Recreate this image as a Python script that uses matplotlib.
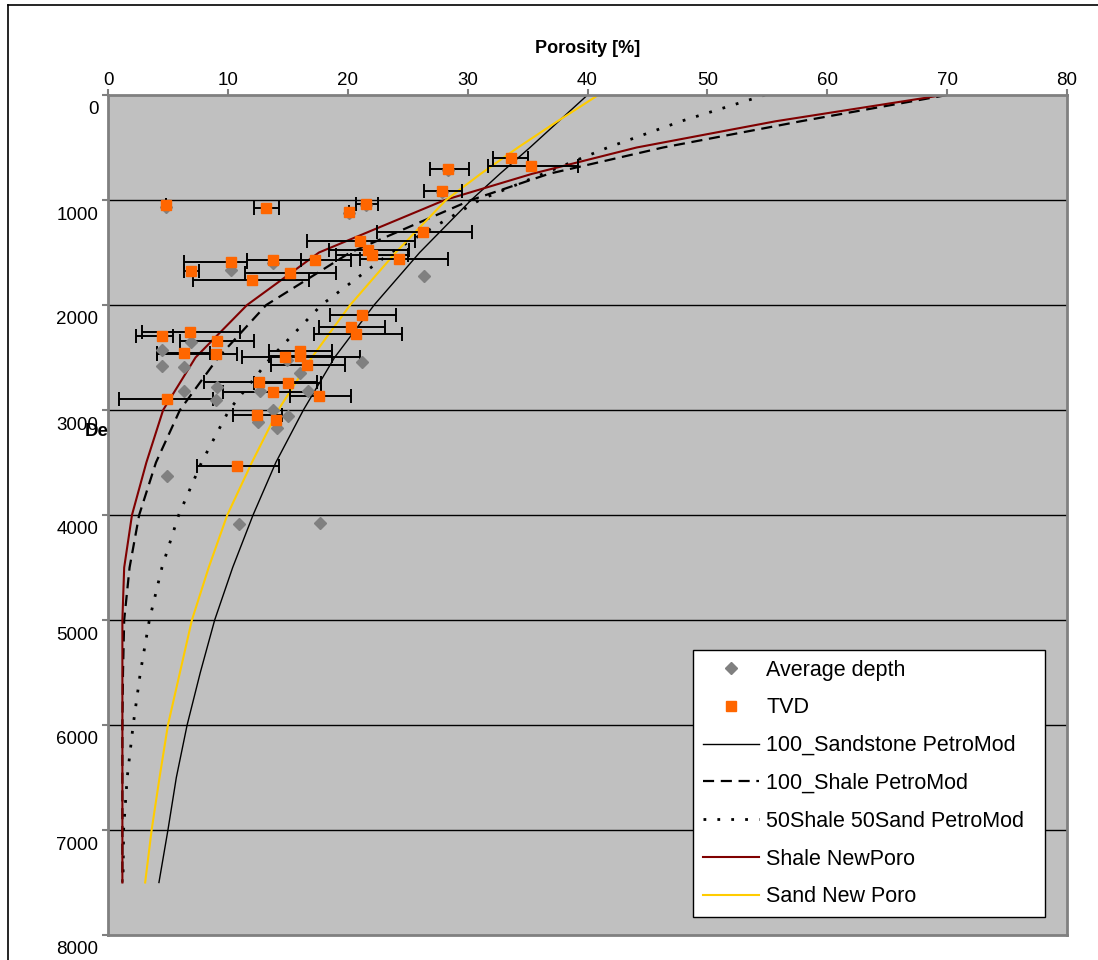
import matplotlib.pyplot as plt
import matplotlib.transforms as mtransforms
from matplotlib.lines import Line2D
import numpy as np

plt.rcParams['font.family'] = ['Liberation Sans', 'DejaVu Sans']

# Modellkurven: Tiefe [m] und Porosität [%]
curve_depth = [0, 250, 500, 750, 1000, 1500, 2000, 2500, 3000, 3500,
               4000, 4500, 5000, 5500, 6000, 6500, 7000, 7500]
sandstone_pm = [40.0, 37.6, 35.2, 32.7, 30.3, 26.0, 22.2, 18.9, 16.3, 14.0,
                12.1, 10.4, 8.9, 7.7, 6.6, 5.7, 5.0, 4.25]
shale_pm = [70.0, 57.8, 46.3, 36.8, 30.3, 20.2, 13.2, 9.2, 6.0, 4.0,
            2.6, 1.8, 1.35, 1.25, 1.2, 1.2, 1.2, 1.2]
mix_pm = [54.8, 47.8, 41.7, 36.3, 31.0, 23.6, 17.8, 13.6, 10.1, 7.8,
          5.9, 4.5, 3.45, 2.7, 2.1, 1.6, 1.3, 1.25]
shale_new = [69.7, 55.7, 44.1, 35.4, 28.1, 17.6, 11.6, 7.3, 4.6, 3.2,
             2.0, 1.35, 1.2, 1.2, 1.2, 1.2, 1.2, 1.2]
sand_new = [40.9, 37.5, 34.2, 31.1, 28.2, 24.0, 20.2, 17.0, 14.2, 12.0,
            9.95, 8.4, 7.0, 6.0, 5.0, 4.3, 3.64, 3.1]

# Messwerte TVD (Porosität, Tiefe, Fehlerbalken min/max)
tvd_por = [4.8, 13.2, 21.5, 20.1, 28.4, 33.6, 35.3, 27.9, 26.3, 21.0,
           21.7, 22.0, 24.3, 17.3, 13.8, 10.3, 6.9, 15.2, 12.0,
           21.2, 20.3, 20.7, 6.8, 4.5, 9.1, 6.3, 9.0, 16.0, 16.0,
           14.8, 16.6, 12.6, 15.0, 13.8, 17.6, 4.9, 12.4, 14.0, 10.8]
tvd_depth = [1050, 1078, 1034, 1113, 704, 596, 675, 916, 1306, 1395,
             1474, 1522, 1560, 1570, 1570, 1595, 1680, 1696, 1760,
             2093, 2210, 2279, 2254, 2292, 2346, 2457, 2470, 2441, 2488,
             2495, 2574, 2736, 2742, 2825, 2869, 2895, 3044, 3097, 3535]
tvd_lo = [4.8, 12.2, 20.7, 20.1, 26.9, 32.1, 31.7, 26.4, 22.4, 16.6,
          18.4, 19.0, 21.0, 16.1, 11.6, 6.3, 6.3, 11.4, 7.1,
          18.5, 17.6, 17.2, 2.8, 2.3, 6.0, 4.1, 4.1, 13.4, 13.4,
          11.2, 13.6, 8.0, 12.2, 9.6, 15.2, 0.9, 10.4, 14.0, 7.4]
tvd_hi = [4.8, 14.3, 22.5, 20.1, 30.1, 35.0, 39.2, 29.5, 30.4, 25.6,
          25.1, 25.0, 28.4, 20.3, 16.1, 11.6, 7.6, 19.0, 16.8,
          24.0, 23.1, 24.5, 11.0, 5.4, 12.2, 8.5, 10.8, 18.7, 18.7,
          21.0, 19.8, 17.4, 17.8, 17.8, 20.3, 8.8, 14.5, 14.0, 14.3]

# Messwerte mittlere Tiefe
avg_por = [4.8, 20.1, 10.3, 26.4, 6.9, 4.5, 4.5, 6.3, 14.9, 21.2,
           16.0, 9.1, 12.7, 16.7, 6.3, 9.0, 13.8, 15.0, 12.5, 14.1,
           4.9, 10.9, 17.7, 13.8, 21.5, 28.4, 27.9]
avg_depth = [1065, 1125, 1665, 1722, 2355, 2432, 2578, 2591, 2520, 2546,
             2648, 2780, 2818, 2818, 2816, 2901, 2996, 3059, 3117, 3170,
             3624, 4090, 4077, 1600, 1045, 712, 925]

fig = plt.figure(figsize=(10.98, 9.6), dpi=100)
W, H = 1098, 960
ax = fig.add_axes([108 / W, 1 - 935 / H, (1067 - 108) / W, (935 - 95) / H])
ax.set_facecolor('#C0C0C0')

# Rahmen um das Diagramm (nur oben und links sichtbar)
fig.add_artist(Line2D([8 / W, 8 / W], [0, 1 - 5 / H], transform=fig.transFigure,
                      color='black', linewidth=1.2))
fig.add_artist(Line2D([8 / W, 1], [1 - 5 / H, 1 - 5 / H], transform=fig.transFigure,
                      color='black', linewidth=1.2))

for d in range(1000, 8000, 1000):
    ax.axhline(d, color='black', linewidth=1.0, zorder=1)

l1, = ax.plot(sandstone_pm, curve_depth, color='black', lw=1.0, zorder=2)
l2, = ax.plot(shale_pm, curve_depth, color='black', lw=1.6, dashes=[5, 3], zorder=2)
l3, = ax.plot(mix_pm, curve_depth, color='black', lw=2.0, dashes=[1, 4], zorder=2)
l4, = ax.plot(shale_new, curve_depth, color='#800000', lw=1.5, zorder=2)
l5, = ax.plot(sand_new, curve_depth, color='#FFCC00', lw=1.5, zorder=2)

tvd_por_a = np.array(tvd_por)
xerr = [tvd_por_a - np.array(tvd_lo), np.array(tvd_hi) - tvd_por_a]
ax.errorbar(tvd_por, tvd_depth, xerr=xerr, fmt='none', ecolor='black',
            elinewidth=1.4, capsize=5, capthick=1.4, zorder=3)

p1, = ax.plot(avg_por, avg_depth, ls='none', marker='D', markersize=6,
              color='#808080', zorder=4)
p2, = ax.plot(tvd_por, tvd_depth, ls='none', marker='s', markersize=7,
              color='#FF6600', zorder=5)

ax.set_xlim(0, 80)
ax.set_ylim(8000, 0)
ax.set_xticks(range(0, 81, 10))
ax.set_yticks(range(0, 8001, 1000))
ax.xaxis.tick_top()
ax.xaxis.set_label_position('top')
ax.set_xlabel('Porosity [%]', fontsize=13, fontweight='bold', labelpad=14)
ax.tick_params(axis='both', labelsize=13.5, color='#808080', length=4,
               width=1.5, pad=3)
ax.tick_params(axis='x', pad=0)
for s in ax.spines.values():
    s.set_color('#808080')
    s.set_linewidth(2)

# Tiefen-Beschriftung etwas unterhalb der Striche (wie im Original)
offset = mtransforms.ScaledTranslation(0, -13 / 100, fig.dpi_scale_trans)
for lbl in ax.get_yticklabels():
    lbl.set_transform(lbl.get_transform() + offset)

fig.text(97 / W, 1 - 432 / H, 'De', fontsize=13.5, fontweight='bold',
         ha='center', va='center')

leg = ax.legend([p1, p2, l1, l2, l3, l4, l5],
                ['Average depth', 'TVD', '100_Sandstone PetroMod',
                 '100_Shale PetroMod', '50Shale 50Sand PetroMod',
                 'Shale NewPoro', 'Sand New Poro'],
                loc='lower left', bbox_to_anchor=(0.610, 0.0214, 0.367, 0.32),
                mode='expand', fontsize=15.5, frameon=True, fancybox=False,
                edgecolor='black', framealpha=1, borderpad=0.45,
                labelspacing=0.78, handlelength=2.6, handletextpad=0.35,
                borderaxespad=0)
leg.get_frame().set_linewidth(1.0)

fig.savefig('out.png', dpi=100)
